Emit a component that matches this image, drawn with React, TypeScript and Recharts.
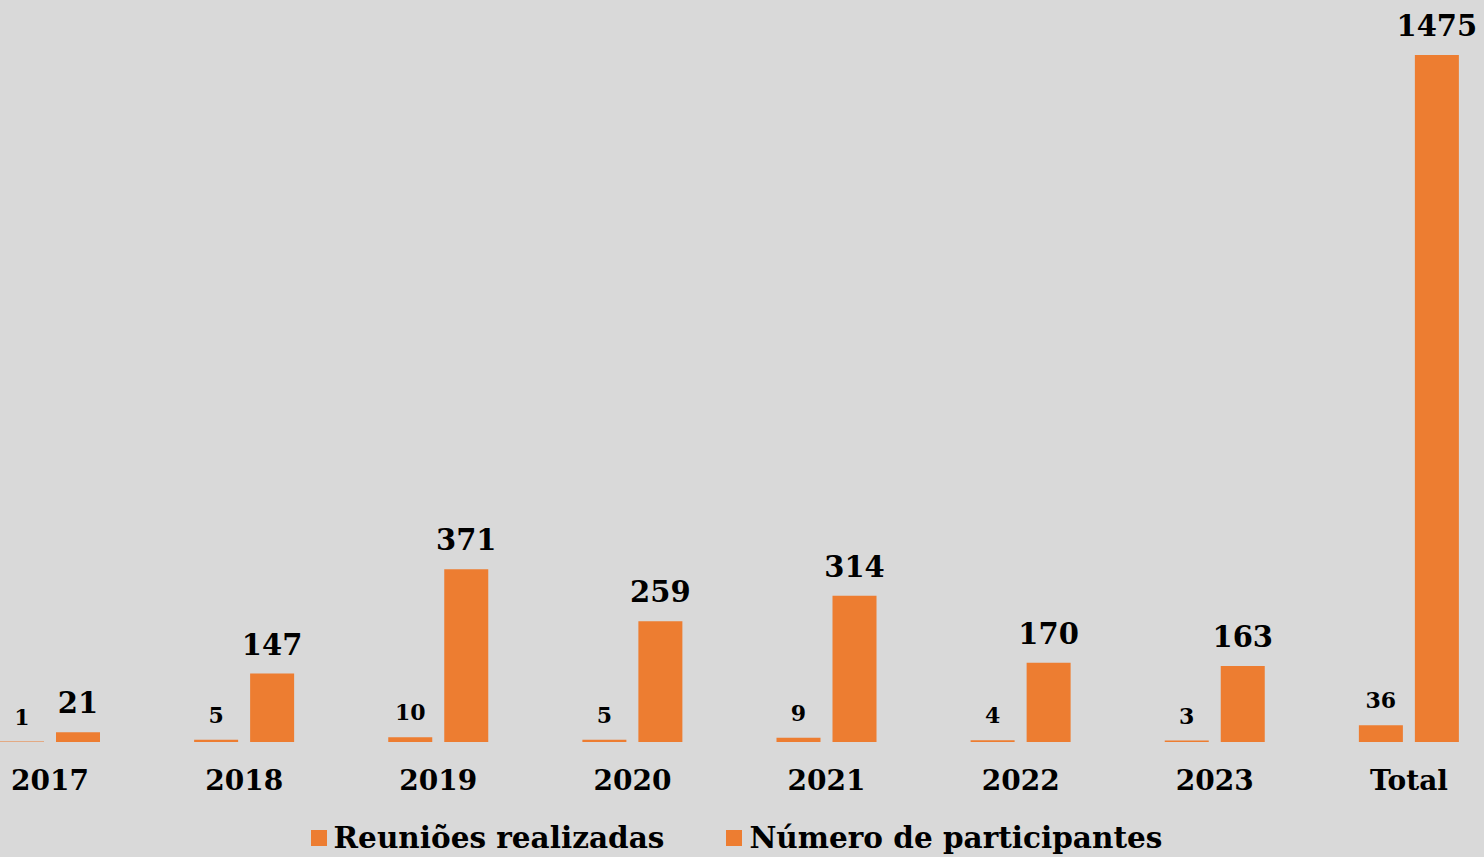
import React from 'react';
import { BarChart, Bar, XAxis, YAxis, Legend, LabelList } from 'recharts';

const categories = ['2017', '2018', '2019', '2020', '2021', '2022', '2023', 'Total'];
const reunioes = [1, 5, 10, 5, 9, 4, 3, 36];
const participantes = [21, 147, 371, 259, 314, 170, 163, 1475];

const ORANGE = '#ED7D31';
const FONT = '"DejaVu Serif", serif';

const data = categories.map((c, i) => ({
  name: c,
  reunioes: reunioes[i],
  participantes: participantes[i],
}));

const legendItems = [
  { key: 'reunioes', label: 'Reuniões realizadas' },
  { key: 'participantes', label: 'Número de participantes' },
];

const LegendContent = () => (
  <div style={{ display: 'flex', justifyContent: 'center', paddingLeft: 14, gap: 62 }}>
    {legendItems.map((it) => (
      <div key={it.key} style={{ display: 'flex', alignItems: 'center' }}>
        <span style={{ width: 16, height: 16, background: ORANGE, marginRight: 7, display: 'inline-block' }} />
        <span
          style={{
            fontFamily: FONT,
            fontWeight: 'bold',
            fontSize: 29.5,
            color: '#000',
            lineHeight: '30px',
          }}
        >
          {it.label}
        </span>
      </div>
    ))}
  </div>
);

export default function App() {
  return (
    <div style={{ position: 'absolute', top: 0, left: 0, width: 1484, height: 857, background: '#D9D9D9', overflow: 'hidden' }}>
      <div style={{ position: 'absolute', top: 0, left: -47 }}>
        <BarChart
          width={1553}
          height={857}
          data={data}
          margin={{ top: 55, right: 0, bottom: 0, left: 0 }}
          barSize={44}
          barGap={12}
        >
          <XAxis
            dataKey="name"
            axisLine={false}
            tickLine={false}
            height={85}
            tick={{ fontFamily: FONT, fontWeight: 'bold', fontSize: 28, fill: '#000' }}
            tickMargin={22}
          />
          <YAxis hide domain={[0, 1475]} />
          <Legend
            verticalAlign="bottom"
            content={<LegendContent />}
            wrapperStyle={{ left: 0, width: 1553, top: 823 }}
          />
          <Bar dataKey="reunioes" fill={ORANGE} isAnimationActive={false}>
            <LabelList
              dataKey="reunioes"
              position="top"
              offset={17}
              style={{ fontFamily: FONT, fontWeight: 'bold', fontSize: 22, fill: '#000' }}
            />
          </Bar>
          <Bar dataKey="participantes" fill={ORANGE} isAnimationActive={false}>
            <LabelList
              dataKey="participantes"
              position="top"
              offset={19}
              style={{ fontFamily: FONT, fontWeight: 'bold', fontSize: 29, fill: '#000' }}
            />
          </Bar>
        </BarChart>
      </div>
    </div>
  );
}
